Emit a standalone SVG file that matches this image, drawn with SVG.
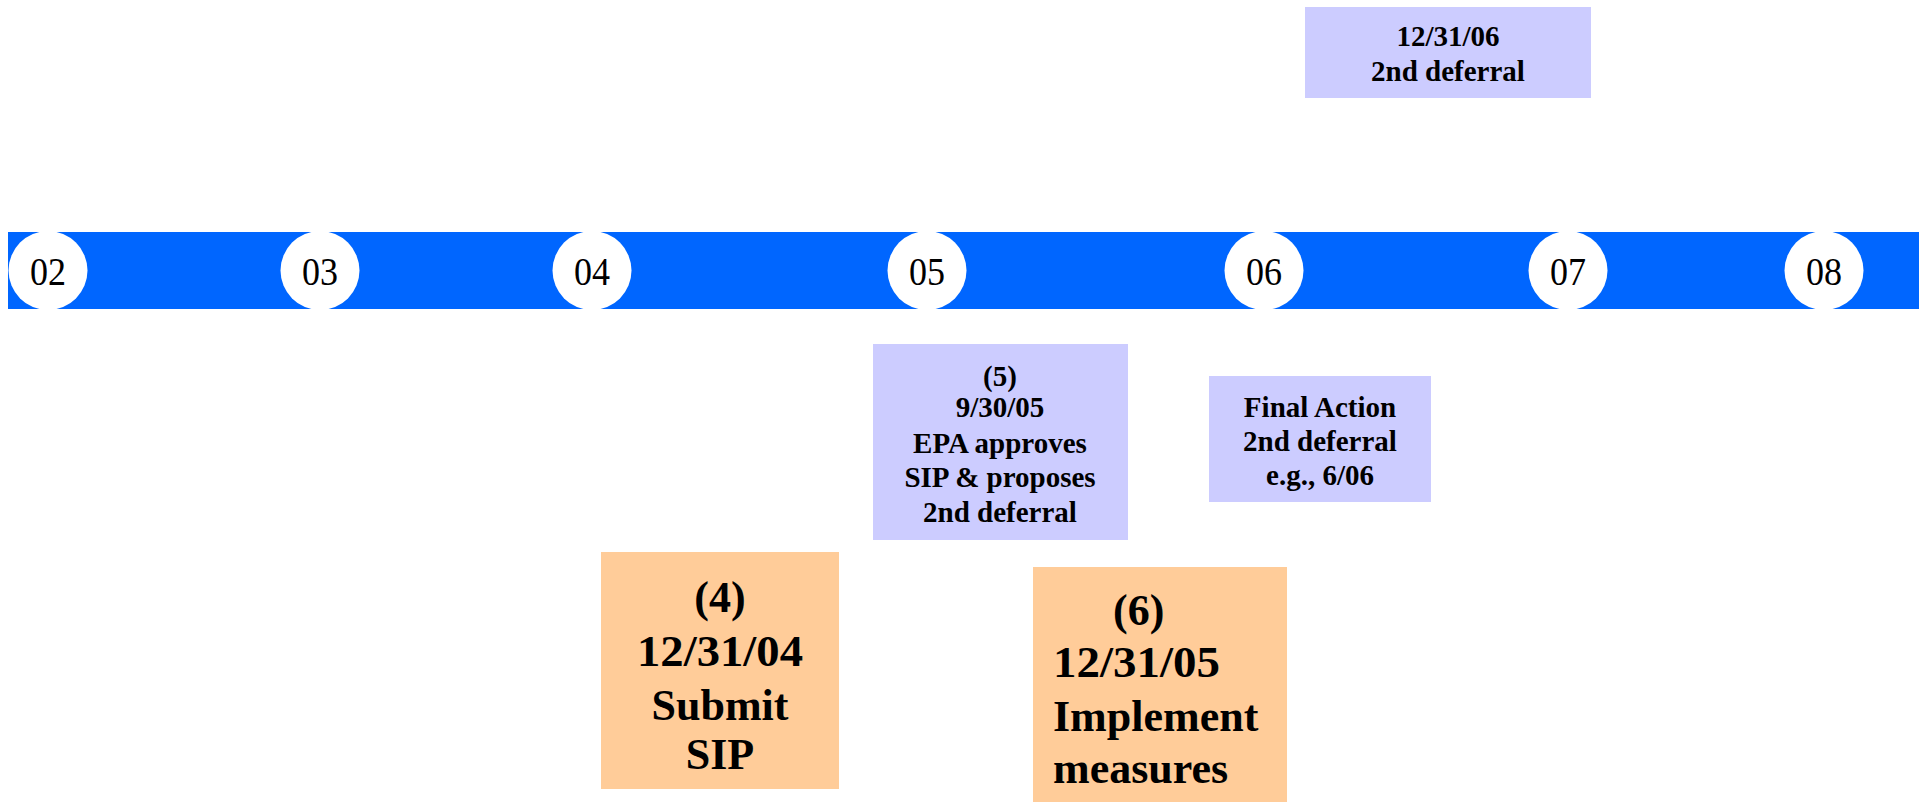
<svg xmlns="http://www.w3.org/2000/svg" width="1919" height="802" viewBox="0 0 1919 802">
<style>
.yr{font-family:"Liberation Serif","Times New Roman",serif;font-size:40px;fill:#000;text-anchor:middle}
.sm{font-family:"Liberation Serif","Times New Roman",serif;font-size:29px;font-weight:bold;fill:#000;text-anchor:middle}
.lg{font-family:"Liberation Serif","Times New Roman",serif;font-size:44px;font-weight:bold;fill:#000}
.lav{fill:#CCCCFF}
.org{fill:#FFCC99}
.dot{fill:#FFFFFF}
</style>
<rect x="0" y="0" width="1919" height="802" fill="#FFFFFF"/>
<g id="timeline">
<rect x="8" y="232" width="1911" height="77" fill="#0066FF"/>
</g>
<g id="y02"><circle class="dot" cx="48" cy="270.5" r="39.5"/><text class="yr" x="48" y="285" textLength="36" lengthAdjust="spacingAndGlyphs">02</text></g>
<g id="y03"><circle class="dot" cx="320" cy="270.5" r="39.5"/><text class="yr" x="320" y="285" textLength="36" lengthAdjust="spacingAndGlyphs">03</text></g>
<g id="y04"><circle class="dot" cx="592" cy="270.5" r="39.5"/><text class="yr" x="592" y="285" textLength="36" lengthAdjust="spacingAndGlyphs">04</text></g>
<g id="y05"><circle class="dot" cx="927" cy="270.5" r="39.5"/><text class="yr" x="927" y="285" textLength="36" lengthAdjust="spacingAndGlyphs">05</text></g>
<g id="y06"><circle class="dot" cx="1264" cy="270.5" r="39.5"/><text class="yr" x="1264" y="285" textLength="36" lengthAdjust="spacingAndGlyphs">06</text></g>
<g id="y07"><circle class="dot" cx="1568" cy="270.5" r="39.5"/><text class="yr" x="1568" y="285" textLength="36" lengthAdjust="spacingAndGlyphs">07</text></g>
<g id="y08"><circle class="dot" cx="1824" cy="270.5" r="39.5"/><text class="yr" x="1824" y="285" textLength="36" lengthAdjust="spacingAndGlyphs">08</text></g>
<g id="box-2nd-deferral">
<rect class="lav" x="1305" y="7" width="286" height="91"/>
<text class="sm" x="1448" y="46">12/31/06</text>
<text class="sm" x="1448" y="81">2nd deferral</text>
</g>
<g id="box-5">
<rect class="lav" x="873" y="344" width="255" height="196"/>
<text class="sm" x="1000" y="386">(5)</text>
<text class="sm" x="1000" y="417">9/30/05</text>
<text class="sm" x="1000" y="453">EPA approves</text>
<text class="sm" x="1000" y="487">SIP &amp; proposes</text>
<text class="sm" x="1000" y="522">2nd deferral</text>
</g>
<g id="box-final">
<rect class="lav" x="1209" y="376" width="222" height="126"/>
<text class="sm" x="1320" y="417">Final Action</text>
<text class="sm" x="1320" y="451">2nd deferral</text>
<text class="sm" x="1320" y="485">e.g., 6/06</text>
</g>
<g id="box-4">
<rect class="org" x="601" y="552" width="238" height="237"/>
<text class="lg" x="720" y="612" text-anchor="middle">(4)</text>
<text class="lg" x="720" y="666" text-anchor="middle" textLength="166" lengthAdjust="spacingAndGlyphs">12/31/04</text>
<text class="lg" x="720" y="720" text-anchor="middle">Submit</text>
<text class="lg" x="720" y="769" text-anchor="middle">SIP</text>
</g>
<g id="box-6">
<rect class="org" x="1033" y="567" width="254" height="240"/>
<text class="lg" x="1113" y="625">(6)</text>
<text class="lg" x="1053" y="677" textLength="167" lengthAdjust="spacingAndGlyphs">12/31/05</text>
<text class="lg" x="1053" y="731">Implement</text>
<text class="lg" x="1053" y="783">measures</text>
</g>
<g id="connectors"></g>
</svg>
